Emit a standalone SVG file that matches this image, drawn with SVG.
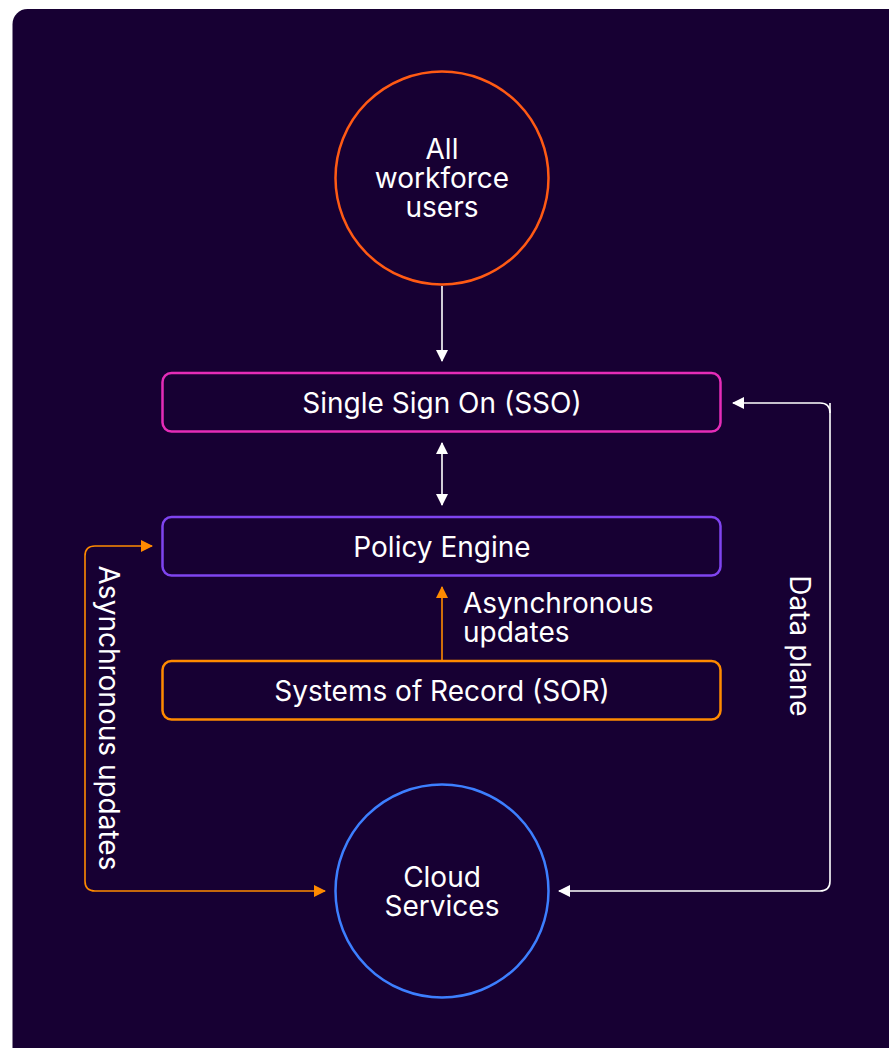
<svg xmlns="http://www.w3.org/2000/svg" width="889" height="1048" viewBox="0 0 889 1048">
<defs>
<style>
.t{font-family:Inter,"Liberation Sans",sans-serif;fill:#ffffff;font-size:28px;text-anchor:middle}
.box{fill:none;stroke-width:2.5}
.w{stroke:#ffffff;stroke-width:1.6;fill:none}
.o{stroke:#ff8a00;stroke-width:1.6;fill:none}
</style>
<marker id="aw" markerWidth="12" markerHeight="12" viewBox="0 0 12 12" refX="11" refY="6" orient="auto" markerUnits="userSpaceOnUse"><path d="M0,0 L12,6 L0,12 Z" fill="#ffffff"/></marker>
<marker id="awS" markerWidth="12" markerHeight="12" viewBox="0 0 12 12" refX="1" refY="6" orient="auto" markerUnits="userSpaceOnUse"><path d="M12,0 L0,6 L12,12 Z" fill="#ffffff"/></marker>
<marker id="ao" markerWidth="12" markerHeight="12" viewBox="0 0 12 12" refX="11" refY="6" orient="auto" markerUnits="userSpaceOnUse"><path d="M0,0 L12,6 L0,12 Z" fill="#ff8a00"/></marker>
</defs>
<rect x="0" y="0" width="889" height="1048" fill="#ffffff"/>
<rect x="12.5" y="9" width="900" height="1060" rx="15" fill="#170033"/>
<g id="connectors">
<line class="w" x1="442" y1="286" x2="442" y2="361" marker-end="url(#aw)"/>
<line class="w" x1="442" y1="443" x2="442" y2="505" marker-start="url(#awS)" marker-end="url(#aw)"/>
<line class="o" x1="442" y1="660" x2="442" y2="587" marker-end="url(#ao)"/>
<path class="o" d="M85,720 V556 Q85,546 95,546 H152" marker-end="url(#ao)"/>
<path class="o" d="M85,720 V881 Q85,891 95,891 H325" marker-end="url(#ao)"/>
<path class="w" d="M830,403 V881 Q830,891 820,891 H559" marker-end="url(#aw)"/>
<path class="w" d="M830,413 Q830,403 820,403 H733" marker-end="url(#aw)"/>
<text class="t" x="463" y="613" style="text-anchor:start">Asynchronous</text>
<text class="t" x="463" y="642" style="text-anchor:start">updates</text>
<text class="t" transform="translate(99,718) rotate(90)">Asynchronous updates</text>
<text class="t" transform="translate(790,646) rotate(90)">Data plane</text>
</g>
<g id="users">
<circle cx="442" cy="178" r="106.5" fill="none" stroke="#ff5a14" stroke-width="2.5"/>
<text class="t" x="442" y="159">All</text>
<text class="t" x="442" y="188">workforce</text>
<text class="t" x="442" y="217">users</text>
</g>
<g id="sso">
<rect class="box" x="162.5" y="373" width="558" height="58.5" rx="9" stroke="#e52cb8"/>
<text class="t" x="442" y="413">Single Sign On (SSO)</text>
</g>
<g id="policy">
<rect class="box" x="162.5" y="517" width="558" height="58.5" rx="9" stroke="#7f44f0"/>
<text class="t" x="442" y="557">Policy Engine</text>
</g>
<g id="sor">
<rect class="box" x="162.5" y="661" width="558" height="58.5" rx="9" stroke="#ff8a00"/>
<text class="t" x="442" y="701">Systems of Record (SOR)</text>
</g>
<g id="cloud">
<circle cx="442" cy="891" r="106.5" fill="none" stroke="#3d7fff" stroke-width="2.5"/>
<text class="t" x="442" y="887">Cloud</text>
<text class="t" x="442" y="916">Services</text>
</g>
</svg>
